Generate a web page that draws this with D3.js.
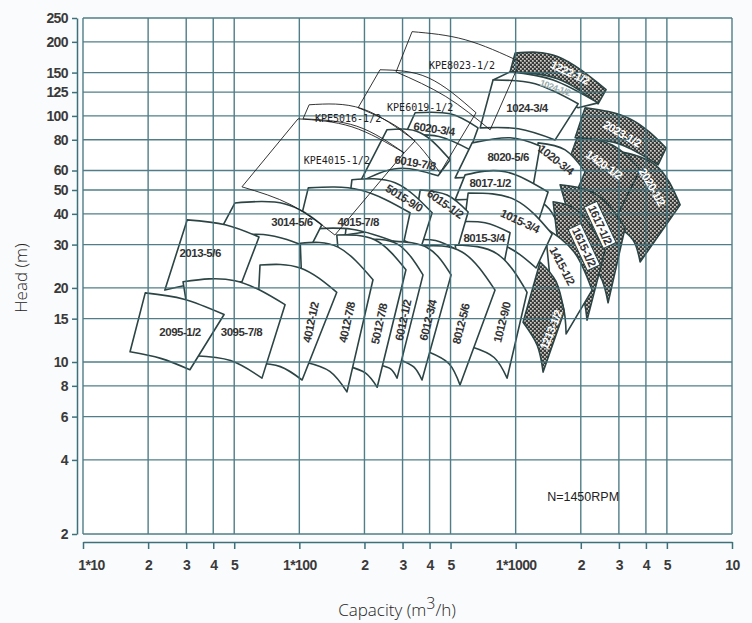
<!DOCTYPE html>
<html>
<head>
<meta charset="utf-8">
<script src="https://cdn.jsdelivr.net/npm/d3@7"></script>
<style>
  body { margin: 0; background: #fafbfc; }
  svg { display: block; }
</style>
</head>
<body>
<div id="chart"></div>
<script>
// Axis ticks
const xTicks = [10, 20, 30, 40, 50, 100, 200, 300, 400, 500, 1000, 2000, 3000, 4000, 5000, 10000];
const xTickLabels = ["1*10", "2", "3", "4", "5", "1*100", "2", "3", "4", "5", "1*1000", "2", "3", "4", "5", "10"];
const yTicks = [2, 4, 6, 8, 10, 15, 20, 30, 40, 50, 60, 80, 100, 125, 150, 200, 250];

// Pump ranges, back to front. [capacity m3/h, head m]
// top edge: left, middle, right ; bottom edge: right, left
const pumpNames = [
  "1222-1/2", "1024-1/2", "2023-1/2", "2020-1/2", "1420-1/2", "1024-3/4", "1020-3/4",
  "1617-1/2", "1615-1/2", "6020-3/4", "8020-5/6", "6019-7/8", "8017-1/2", "1415-1/2",
  "1213-1/2", "1015-3/4", "8015-3/4", "6015-1/2", "5015-9/0", "4015-7/8", "3014-5/6",
  "2013-5/6", "1012-9/0", "8012-5/6", "6012-3/4", "6012-1/2", "5012-7/8", "4012-7/8",
  "4012-1/2", "3095-7/8", "2095-1/2"
];
const pumpTop = [
  [[994, 180], [1571, 174], [2618, 128]],
  [[942, 151], [1490, 140], [2404, 113]],
  [[2094, 108], [3381, 97.3], [4960, 74.1]],
  [[2732, 72.8], [4412, 63.3], [5757, 43.5]],
  [[1923, 81.5], [2791, 76.2], [3760, 60.4]],
  [[786, 140], [1230, 135], [1944, 112]],
  [[1270, 77.7], [1693, 72.8], [2094, 59.3]],
  [[1605, 52.5], [2379, 47.7], [3205, 35.1]],
  [[1490, 44.8], [1985, 40.4], [2590, 28.5]],
  [[343, 103], [498, 102], [670, 89.4]],
  [[629, 77.7], [942, 81.5], [1297, 75.5]],
  [[254, 87.8], [362, 85.4], [498, 66.3]],
  [[584, 57.6], [894, 59.3], [1412, 49.1]],
  [[1368, 35.1], [1863, 28.0], [2255, 19.6]],
  [[1297, 25.5], [1538, 21.2], [1675, 16.0]],
  [[603, 48.6], [994, 45.6], [1474, 33.1]],
  [[525, 37.1], [722, 36.8], [942, 33.5]],
  [[362, 50.0], [482, 47.7], [603, 40.7]],
  [[175, 55.0], [277, 53.5], [411, 40.4]],
  [[110, 51.0], [191, 50.0], [325, 40.4]],
  [[50.4, 44.3], [85.9, 43.9], [127, 36.1]],
  [[30.3, 37.8], [45.4, 36.1], [65.1, 32.2]],
  [[525, 29.9], [821, 27.5], [1129, 19.2]],
  [[362, 29.6], [565, 28.0], [803, 19.6]],
  [[271, 31.0], [394, 29.0], [503, 22.6]],
  [[195, 31.3], [283, 30.2], [373, 22.6]],
  [[149, 32.8], [224, 31.3], [311, 23.7]],
  [[101, 30.4], [151, 29.3], [219, 21.6]],
  [[65.8, 24.8], [101, 24.1], [149, 19.2]],
  [[29.0, 21.2], [50.4, 21.4], [85.9, 17.1]],
  [[19.4, 19.1], [29.3, 18.0], [44.9, 15.6]]
];
const pumpBottom = [
  [[2404, 112], [942, 151]],
  [[1944, 108], [786, 140]],
  [[4554, 63.3], [1883, 81.5]],
  [[3760, 25.5], [2881, 36.1]],
  [[2881, 37.8], [1605, 52.5]],
  [[1522, 79.9], [685, 89.4]],
  [[1605, 34.4], [1166, 47.7]],
  [[2674, 17.4], [1985, 27.2]],
  [[2138, 14.8], [1605, 25.5]],
  [[616, 72.8], [308, 83.8]],
  [[1191, 49.1], [525, 56.0]],
  [[438, 57.1], [191, 54.0]],
  [[1270, 37.1], [525, 45.6]],
  [[1711, 13.0], [1443, 21.6]],
  [[1339, 9.1], [1082, 14.5]],
  [[1243, 24.1], [565, 31.3]],
  [[875, 24.1], [487, 27.2]],
  [[536, 28.5], [332, 31.3]],
  [[362, 28.5], [163, 32.8]],
  [[302, 29.9], [98.6, 34.4]],
  [[112, 29.0], [40.8, 31.3]],
  [[54.3, 21.2], [23.9, 19.6]],
  [[913, 8.6], [629, 11.5]],
  [[553, 8.06], [394, 11.0]],
  [[369, 8.45], [292, 10.2]],
  [[283, 8.6], [236, 9.7]],
  [[229, 7.9], [168, 9.6]],
  [[166, 7.56], [106, 10.0]],
  [[103, 8.45], [62.4, 9.9]],
  [[67.2, 8.6], [32.9, 10.6]],
  [[31.2, 9.3], [16.5, 11.0]]
];
const pumpLabelAt = [
  [1785, 150], [1522, 130], [3104, 84.6], [4273, 51.5], [2563, 63.3], [1129, 108], [1538, 66.3],
  [2456, 36.1], [2071, 29.3], [420, 88.6], [923, 68.2], [343, 64.5], [762, 53.5], [1640, 24.6],
  [1458, 13.5], [1048, 37.4], [715, 31.9], [472, 43.9], [305, 46.4], [187, 37.1], [92.5, 37.1],
  [34.8, 27.7], [866, 14.5], [559, 14.3], [394, 14.8], [302, 14.8], [234, 14.3], [166, 14.5],
  [113, 14.5], [54, 13.2], [28.1, 13.2]
];
const darkPumps = ["1222-1/2", "2023-1/2", "2020-1/2", "1420-1/2", "1617-1/2", "1615-1/2", "1213-1/2"];

// KPE ranges (thin outline, no fill)
const kpeNames = ["KPE4015-1/2", "KPE5016-1/2", "KPE6019-1/2", "KPE8023-1/2"];
const kpeTop = [
  [[98.6, 97.3], [175, 90.3], [305, 70.8]],
  [[111, 111], [195, 107], [343, 79.2]],
  [[236, 154], [394, 143], [656, 103]],
  [[332, 220], [584, 204], [1048, 166]]
];
const kpeBottom = [
  [[146, 32.8], [54.3, 51.5]],
  [[305, 70.8], [104, 97.3]],
  [[447, 58.7], [187, 108]],
  [[762, 87.8], [280, 151]]
];
const kpeLabelAt = [[149, 65.7], [168, 98], [362, 108], [565, 161]];

const speedNote = { text: "N=1450RPM", at: [2050, 2.83] };

// label rotation (degrees)
const labelAngle = {
  "4012-1/2": -78, "4012-7/8": -78, "5012-7/8": -78, "6012-1/2": -78, "6012-3/4": -76,
  "8012-5/6": -76, "1012-9/0": -76, "5015-9/0": 32, "6015-1/2": 35, "1015-3/4": 25,
  "1020-3/4": 38, "2023-1/2": 30, "1420-1/2": 35, "2020-1/2": 60, "1617-1/2": 65,
  "1615-1/2": 65, "1415-1/2": 62, "1213-1/2": -68, "1222-1/2": 25, "1024-1/2": 20,
  "6019-7/8": 10, "6020-3/4": 8
};
const boxedLabels = ["1617-1/2", "1615-1/2"];

const width = 752, height = 623;
const gridColor = "#3e707b";
const tileStroke = "#2c4444";

const svg = d3.select("#chart")
  .append("svg")
  .attr("width", width)
  .attr("height", height);

const x = d3.scaleLog().domain([10, 10000]).range([83, 732]);
const y = d3.scaleLog().domain([2, 250]).range([534, 18]);

// checker pattern for the dark ranges
const defs = svg.append("defs");
const pat = defs.append("pattern")
  .attr("id", "chk")
  .attr("width", 4).attr("height", 4)
  .attr("patternUnits", "userSpaceOnUse");
pat.append("rect").attr("width", 4).attr("height", 4).attr("fill", "#363c3c");
pat.append("rect").attr("width", 1.7).attr("height", 1.7).attr("fill", "#d6cec4");
pat.append("rect").attr("x", 2).attr("y", 2).attr("width", 1.7).attr("height", 1.7).attr("fill", "#d6cec4");

// plot background
svg.append("rect")
  .attr("x", x(10)).attr("y", y(250))
  .attr("width", x(10000) - x(10))
  .attr("height", y(2) - y(250))
  .attr("fill", "#fff");

const curve = d3.line().curve(d3.curveNatural);

// top edge through 3 points, bottom edge bent like the top one
function tilePath(top, bottom) {
  const t = top.map(p => [x(p[0]), y(p[1])]);
  const [br, bl] = bottom.map(p => [x(p[0]), y(p[1])]);
  const [tl, tm, tr] = t;
  const vx = tr[0] - tl[0], vy = tr[1] - tl[1], vl = Math.hypot(vx, vy);
  const sag = (tm[0] - (tl[0] + tr[0]) / 2) * (vy / vl) - (tm[1] - (tl[1] + tr[1]) / 2) * (vx / vl);
  const wx = br[0] - bl[0], wy = br[1] - bl[1], wl = Math.hypot(wx, wy);
  const k = sag / vl * wl * 0.8;
  const bm = [(br[0] + bl[0]) / 2 + wy / wl * k, (br[1] + bl[1]) / 2 - wx / wl * k];
  return curve(t) + curve([br, bm, bl]).replace("M", "L") + "Z";
}

// pump tiles
const tiles = svg.append("g");
pumpNames.forEach((name, i) => {
  const dark = darkPumps.includes(name);
  tiles.append("path")
    .attr("d", tilePath(pumpTop[i], pumpBottom[i]))
    .attr("fill", dark ? "url(#chk)" : "#fff")
    .attr("stroke", tileStroke)
    .attr("stroke-width", 1.6)
    .attr("stroke-linejoin", "round");
});

// grid
const grid = svg.append("g")
  .attr("stroke", gridColor)
  .attr("stroke-width", 1.4)
  .attr("opacity", 0.9);
grid.selectAll(".vl")
  .data(xTicks)
  .enter().append("line")
  .attr("x1", d => x(d)).attr("x2", d => x(d))
  .attr("y1", y(250)).attr("y2", y(2));
grid.selectAll(".hl")
  .data(yTicks)
  .enter().append("line")
  .attr("x1", x(10)).attr("x2", x(10000))
  .attr("y1", d => y(d)).attr("y2", d => y(d));

// KPE thin outlines
const kpe = svg.append("g");
kpeNames.forEach((name, i) => {
  kpe.append("path")
    .attr("d", tilePath(kpeTop[i], kpeBottom[i]))
    .attr("fill", "none")
    .attr("stroke", "#1e1e1e")
    .attr("stroke-width", 0.9);
  kpe.append("text")
    .attr("x", x(kpeLabelAt[i][0]))
    .attr("y", y(kpeLabelAt[i][1]))
    .attr("text-anchor", "middle")
    .attr("dominant-baseline", "central")
    .attr("font-family", "DejaVu Sans Mono, monospace")
    .attr("font-size", 10)
    .attr("fill", "#1e1e1e")
    .text(name);
});

// pump labels
const labels = svg.append("g")
  .attr("font-family", "Liberation Sans, Arial, sans-serif")
  .attr("font-weight", "bold");
pumpNames.forEach((name, i) => {
  const dark = darkPumps.includes(name);
  const boxed = boxedLabels.includes(name);
  const g = labels.append("g")
    .attr("transform", `translate(${x(pumpLabelAt[i][0])},${y(pumpLabelAt[i][1])}) rotate(${labelAngle[name] || 0})`);
  const t = g.append("text")
    .attr("text-anchor", "middle")
    .attr("dominant-baseline", "central")
    .attr("font-size", name === "1024-1/2" ? 9 : 11.5)
    .attr("letter-spacing", -0.5)
    .attr("fill", name === "1024-1/2" ? "#9aa" : (dark && !boxed ? "#fff" : "#333"))
    .text(name);
  if (boxed) {
    const bb = t.node().getBBox();
    g.insert("rect", "text")
      .attr("x", bb.x - 2).attr("y", bb.y - 1)
      .attr("width", bb.width + 4).attr("height", bb.height + 2)
      .attr("fill", "#fff")
      .attr("stroke", tileStroke)
      .attr("stroke-width", 1);
  }
});

// speed note
svg.append("text")
  .attr("x", x(speedNote.at[0]))
  .attr("y", y(speedNote.at[1]))
  .attr("text-anchor", "middle")
  .attr("dominant-baseline", "central")
  .attr("font-family", "Liberation Sans, Arial, sans-serif")
  .attr("font-size", 12.5)
  .attr("fill", "#222")
  .text(speedNote.text);

// axes
const yAxis = svg.append("g")
  .attr("transform", "translate(77,0)")
  .call(d3.axisLeft(y).tickValues(yTicks).tickFormat(d3.format("d")).tickSize(5).tickSizeOuter(0).tickPadding(4));

const xAxis = svg.append("g")
  .attr("transform", "translate(0,542)")
  .call(d3.axisBottom(x).tickValues(xTicks).tickFormat((d, i) => xTickLabels[i]).tickSize(7).tickSizeOuter(0).tickPadding(11));

[yAxis, xAxis].forEach(a => {
  a.selectAll("path, line").attr("stroke", gridColor).attr("stroke-width", 1.5);
  a.selectAll("text")
    .attr("font-family", "Liberation Sans, Arial, sans-serif")
    .attr("font-weight", "bold")
    .attr("font-size", 14)
    .attr("letter-spacing", -0.6)
    .attr("fill", "#3a3a3a");
});
xAxis.selectAll(".tick text").filter((d, i) => i === 0).attr("dx", 8);

// axis titles
svg.append("text")
  .attr("transform", "translate(27,278) rotate(-90)")
  .attr("text-anchor", "middle")
  .attr("font-family", "Open Sans, sans-serif")
  .attr("font-weight", 300)
  .attr("font-size", 17)
  .attr("fill", "#222")
  .text("Head (m)");

const xTitle = svg.append("text")
  .attr("x", 397)
  .attr("y", 616)
  .attr("text-anchor", "middle")
  .attr("font-family", "Open Sans, sans-serif")
  .attr("font-weight", 300)
  .attr("font-size", 17)
  .attr("fill", "#222");
xTitle.append("tspan").text("Capacity (m");
xTitle.append("tspan").attr("dy", -7).attr("font-size", 16).text("3");
xTitle.append("tspan").attr("dy", 7).text("/h)");
</script>
</body>
</html>
